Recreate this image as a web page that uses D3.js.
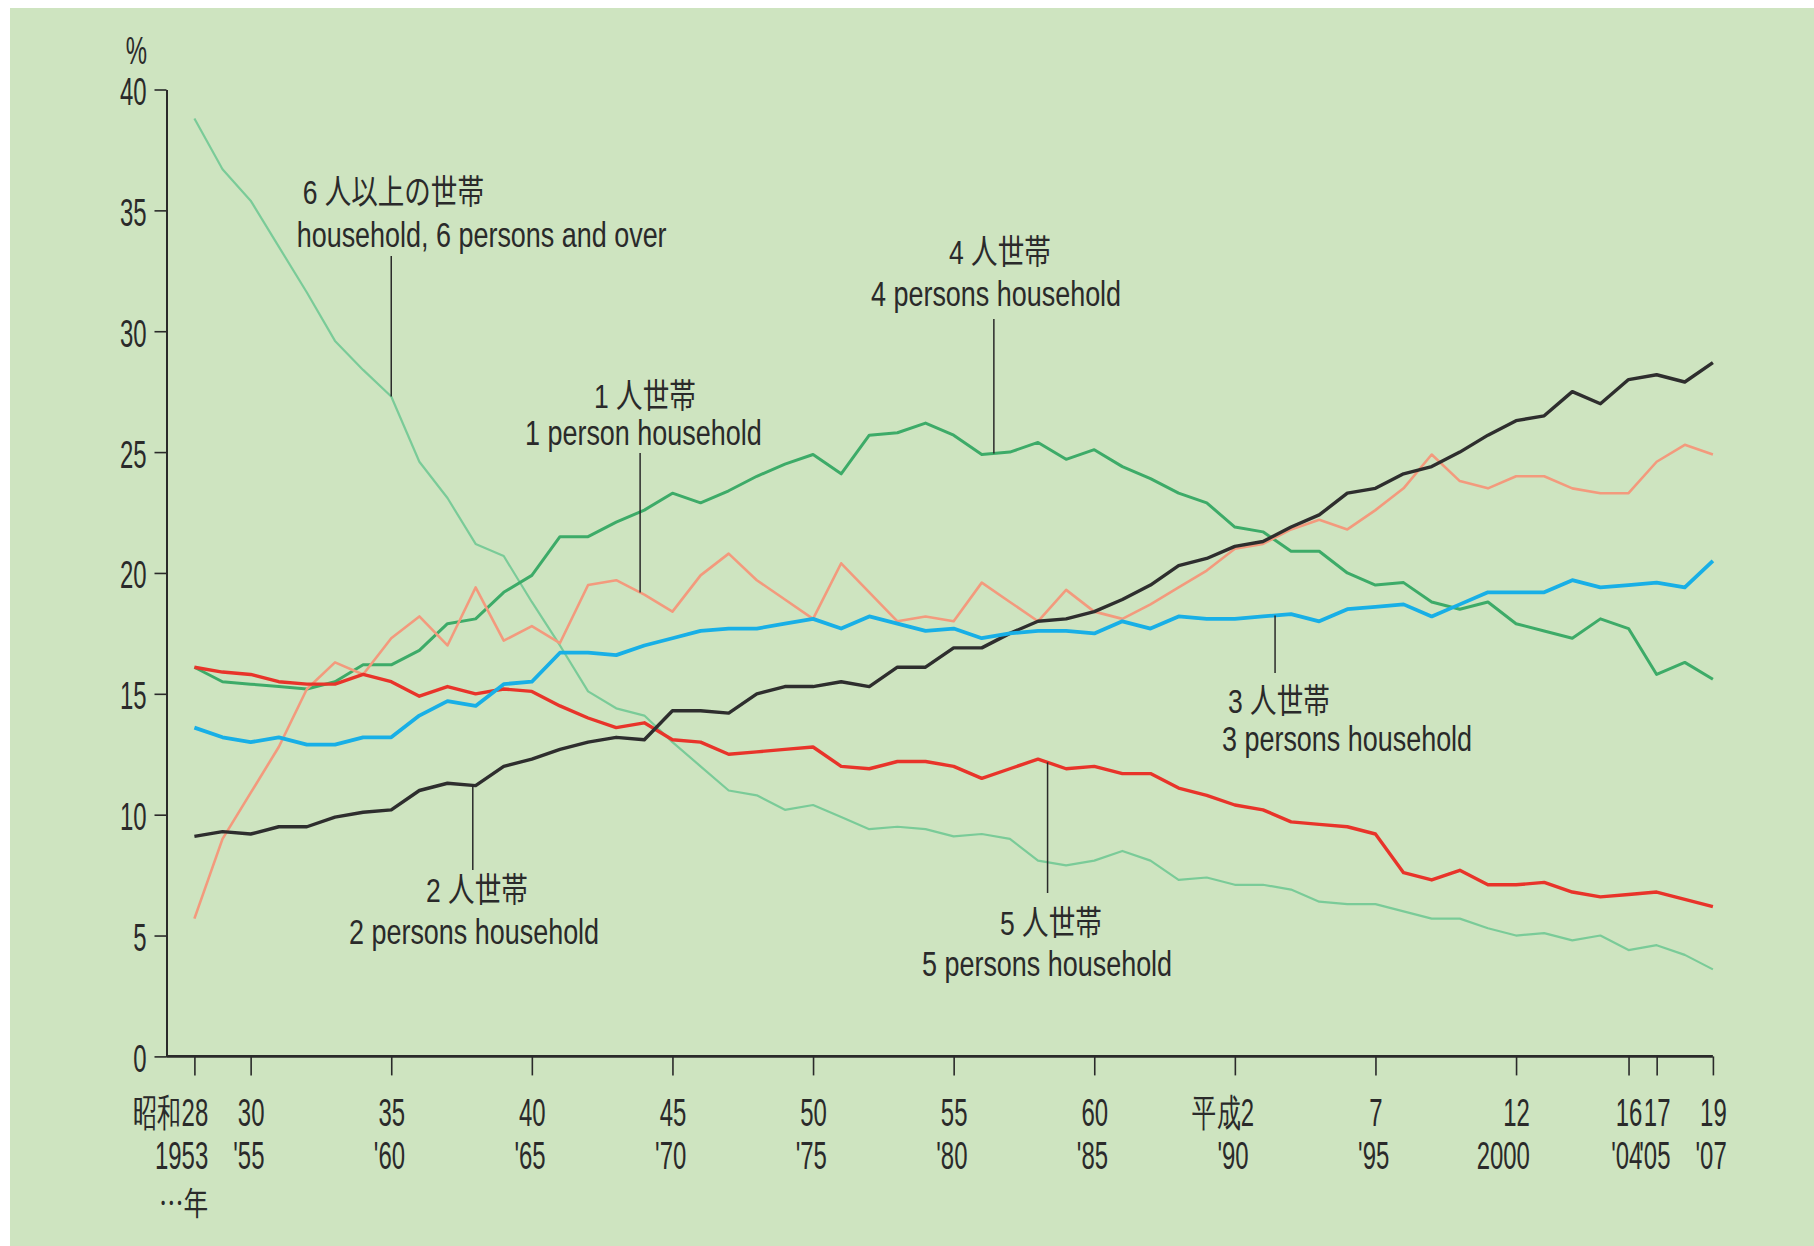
<!DOCTYPE html>
<html>
<head>
<meta charset="utf-8">
<script src="https://cdn.jsdelivr.net/npm/d3@7"></script>
<style>
  html, body { margin: 0; padding: 0; background: #fff; }
  svg { display: block; }
</style>
</head>
<body>
<div id="chart"></div>
<script>
// ---- data (share of households by size, %) ----
const years = [1953, 1954, 1955, 1956, 1957, 1958, 1959, 1960, 1961, 1962,
  1963, 1964, 1965, 1966, 1967, 1968, 1969, 1970, 1971, 1972,
  1973, 1974, 1975, 1976, 1977, 1978, 1979, 1980, 1981, 1982,
  1983, 1984, 1985, 1986, 1987, 1988, 1989, 1990, 1991, 1992,
  1993, 1994, 1995, 1996, 1997, 1998, 1999, 2000, 2001, 2002,
  2003, 2004, 2005, 2006, 2007];

const onePerson = [5.7, 9.0, 10.9, 12.8, 15.2, 16.3, 15.8, 17.3, 18.2, 17.0,
  19.4, 17.2, 17.8, 17.1, 19.5, 19.7, 19.1, 18.4, 19.9, 20.8,
  19.7, 18.9, 18.1, 20.4, 19.2, 18.0, 18.2, 18.0, 19.6, 18.8,
  18.0, 19.3, 18.4, 18.1, 18.7, 19.4, 20.1, 21.0, 21.2, 21.8,
  22.2, 21.8, 22.6, 23.5, 24.9, 23.8, 23.5, 24.0, 24.0, 23.5,
  23.3, 23.3, 24.6, 25.3, 24.9];

const twoPersons = [9.1, 9.3, 9.2, 9.5, 9.5, 9.9, 10.1, 10.2, 11.0, 11.3,
  11.2, 12.0, 12.3, 12.7, 13.0, 13.2, 13.1, 14.3, 14.3, 14.2,
  15.0, 15.3, 15.3, 15.5, 15.3, 16.1, 16.1, 16.9, 16.9, 17.5,
  18.0, 18.1, 18.4, 18.9, 19.5, 20.3, 20.6, 21.1, 21.3, 21.9,
  22.4, 23.3, 23.5, 24.1, 24.4, 25.0, 25.7, 26.3, 26.5, 27.5,
  27.0, 28.0, 28.2, 27.9, 28.7];

const threePersons = [13.6, 13.2, 13.0, 13.2, 12.9, 12.9, 13.2, 13.2, 14.1, 14.7,
  14.5, 15.4, 15.5, 16.7, 16.7, 16.6, 17.0, 17.3, 17.6, 17.7,
  17.7, 17.9, 18.1, 17.7, 18.2, 17.9, 17.6, 17.7, 17.3, 17.5,
  17.6, 17.6, 17.5, 18.0, 17.7, 18.2, 18.1, 18.1, 18.2, 18.3,
  18.0, 18.5, 18.6, 18.7, 18.2, 18.7, 19.2, 19.2, 19.2, 19.7,
  19.4, 19.5, 19.6, 19.4, 20.5];

const fourPersons = [16.1, 15.5, 15.4, 15.3, 15.2, 15.5, 16.2, 16.2, 16.8, 17.9,
  18.1, 19.2, 19.9, 21.5, 21.5, 22.1, 22.6, 23.3, 22.9, 23.4,
  24.0, 24.5, 24.9, 24.1, 25.7, 25.8, 26.2, 25.7, 24.9, 25.0,
  25.4, 24.7, 25.1, 24.4, 23.9, 23.3, 22.9, 21.9, 21.7, 20.9,
  20.9, 20.0, 19.5, 19.6, 18.8, 18.5, 18.8, 17.9, 17.6, 17.3,
  18.1, 17.7, 15.8, 16.3, 15.6];

const fivePersons = [16.1, 15.9, 15.8, 15.5, 15.4, 15.4, 15.8, 15.5, 14.9, 15.3,
  15.0, 15.2, 15.1, 14.5, 14.0, 13.6, 13.8, 13.1, 13.0, 12.5,
  12.6, 12.7, 12.8, 12.0, 11.9, 12.2, 12.2, 12.0, 11.5, 11.9,
  12.3, 11.9, 12.0, 11.7, 11.7, 11.1, 10.8, 10.4, 10.2, 9.7,
  9.6, 9.5, 9.2, 7.6, 7.3, 7.7, 7.1, 7.1, 7.2, 6.8,
  6.6, 6.7, 6.8, 6.5, 6.2];

const sixPlus = [38.8, 36.7, 35.4, 33.5, 31.6, 29.6, 28.4, 27.3, 24.6, 23.1,
  21.2, 20.7, 18.8, 17.0, 15.1, 14.4, 14.1, 13.0, 12.0, 11.0,
  10.8, 10.2, 10.4, 9.9, 9.4, 9.5, 9.4, 9.1, 9.2, 9.0,
  8.1, 7.9, 8.1, 8.5, 8.1, 7.3, 7.4, 7.1, 7.1, 6.9,
  6.4, 6.3, 6.3, 6.0, 5.7, 5.7, 5.3, 5.0, 5.1, 4.8,
  5.0, 4.4, 4.6, 4.2, 3.6];

const tickYears = [1953, 1955, 1960, 1965, 1970, 1975, 1980, 1985, 1990, 1995, 2000, 2004, 2005, 2007];
const tickEra = ["昭和28", "30", "35", "40", "45", "50", "55", "60", "平成2", "7", "12", "16", "17", "19"];
const tickWestern = ["1953", "'55", "'60", "'65", "'70", "'75", "'80", "'85", "'90", "'95", "2000", "'04", "'05", "'07"];
const yTicks = [0, 5, 10, 15, 20, 25, 30, 35, 40];

// ---- layout ----
const W = 1814, H = 1246;
const ink = "#2a2a2a";
const axisSize = 38, axisSx = 0.63;   // condensed look of the axis labels
const jpSize = 34, jpSx = 0.78;
const enSize = 35, enSx = 0.77;

const svg = d3.select("#chart").append("svg")
  .attr("width", W).attr("height", H)
  .style("font-family", "'Liberation Sans', 'Noto Sans CJK JP', sans-serif");

svg.append("rect")
  .attr("x", 10).attr("y", 8)
  .attr("width", W - 10).attr("height", H - 8)
  .attr("fill", "#cee4c0");

const x = d3.scaleLinear().domain([1953, 2007]).range([194.4, 1712.9]);
const y = d3.scaleLinear().domain([0, 40]).range([1056.4, 89.5]);
const yAxisX = 166.5;

// squeeze text horizontally around its anchor point
function put(parent, px, py, str, size, sx, anchor) {
  return parent.append("text")
    .attr("transform", "translate(" + px + "," + py + ") scale(" + sx + ",1)")
    .attr("text-anchor", anchor || "start")
    .attr("font-size", size)
    .attr("fill", ink)
    .text(str);
}

function textWidth(str, size) {
  const t = svg.append("text").attr("font-size", size).text(str);
  const w = t.node().getComputedTextLength();
  t.remove();
  return w;
}

// ---- y axis ----
const yAxisG = svg.append("g")
  .attr("transform", "translate(" + yAxisX + ",0)")
  .call(d3.axisLeft(y).tickValues(yTicks).tickSize(12).tickSizeOuter(0));

yAxisG.select(".domain").attr("stroke", ink).attr("stroke-width", 2);
yAxisG.selectAll(".tick line").attr("stroke", ink).attr("stroke-width", 1.6);
yAxisG.selectAll(".tick text")
  .attr("x", -20 / axisSx)
  .attr("y", 15)
  .attr("dy", null)
  .attr("transform", "scale(" + axisSx + ",1)")
  .attr("font-size", axisSize)
  .attr("font-family", null)
  .attr("fill", ink);

put(svg, 147, 64, "%", axisSize, axisSx, "end");

// ---- x axis ----
const xAxisG = svg.append("g")
  .attr("transform", "translate(0," + y(0) + ")")
  .call(d3.axisBottom(x).tickValues(tickYears).tickSize(19).tickSizeOuter(0).tickFormat(""));

xAxisG.select(".domain")
  .attr("d", "M" + yAxisX + ",0H" + x(2007))
  .attr("stroke", ink).attr("stroke-width", 2.6);
xAxisG.selectAll(".tick line").attr("stroke", ink).attr("stroke-width", 1.6);

// digits of each label sit centred on the tick, prefixes run off to the left
function endOffset(str) {
  return textWidth(str.slice(-2), axisSize) * axisSx / 2;
}

xAxisG.selectAll(".tick").each(function (d, i) {
  const g = d3.select(this);
  const e1 = endOffset(tickEra[i]);
  const e2 = endOffset(tickWestern[i]);
  put(g, e1, 70, tickEra[i], axisSize, axisSx, "end");
  put(g, e2, 113, tickWestern[i], axisSize, axisSx, "end");
  if (i === 0) {
    put(g, e1, 159, "…年", 32, 0.77, "end")
      .attr("font-family", "'Noto Sans CJK JP', sans-serif");
  }
});

// ---- lines ----
const series = [
  { name: "six", values: sixPlus, color: "#7acb98", width: 2.2 },
  { name: "four", values: fourPersons, color: "#3dab68", width: 3 },
  { name: "one", values: onePerson, color: "#f39a7d", width: 2.6 },
  { name: "five", values: fivePersons, color: "#e8342a", width: 3.4 },
  { name: "two", values: twoPersons, color: "#2e2e2e", width: 3.4 },
  { name: "three", values: threePersons, color: "#18afe6", width: 3.8 }
];

const line = d3.line()
  .x((d, i) => x(years[i]))
  .y(d => y(d));

svg.append("g").selectAll("path")
  .data(series)
  .enter()
  .append("path")
  .attr("d", s => line(s.values))
  .attr("fill", "none")
  .attr("stroke", s => s.color)
  .attr("stroke-width", s => s.width)
  .attr("stroke-linejoin", "round");

// ---- callouts ----
function valueAt(values, yr) {
  const i = Math.min(Math.floor(yr - years[0]), values.length - 2);
  const t = yr - years[i];
  return values[i] + (values[i + 1] - values[i]) * t;
}

const notes = [
  { values: sixPlus, yr: 1960, end: 256, jp: "6 人以上の世帯", en: "household, 6 persons and over", jx: 302.7, jy: 204, ex: 296.7, ey: 246.7 },
  { values: onePerson, yr: 1968.85, end: 453, jp: "1 人世帯", en: "1 person household", jx: 594, jy: 408, ex: 525, ey: 445 },
  { values: fourPersons, yr: 1981.43, end: 319, jp: "4 人世帯", en: "4 persons household", jx: 949, jy: 264, ex: 871, ey: 306 },
  { values: threePersons, yr: 1991.43, end: 673, jp: "3 人世帯", en: "3 persons household", jx: 1228, jy: 713, ex: 1222, ey: 751 },
  { values: twoPersons, yr: 1962.9, end: 870, jp: "2 人世帯", en: "2 persons household", jx: 426, jy: 902, ex: 349, ey: 944 },
  { values: fivePersons, yr: 1983.34, end: 893, jp: "5 人世帯", en: "5 persons household", jx: 1000, jy: 935, ex: 922, ey: 976 }
];

const noteG = svg.append("g");
notes.forEach(n => {
  const lx = x(n.yr);
  noteG.append("line")
    .attr("x1", lx).attr("x2", lx)
    .attr("y1", y(valueAt(n.values, n.yr))).attr("y2", n.end)
    .attr("stroke", ink).attr("stroke-width", 1.5);
  put(noteG, n.jx, n.jy, n.jp, jpSize, jpSx);
  put(noteG, n.ex, n.ey, n.en, enSize, enSx);
});
</script>
</body>
</html>
